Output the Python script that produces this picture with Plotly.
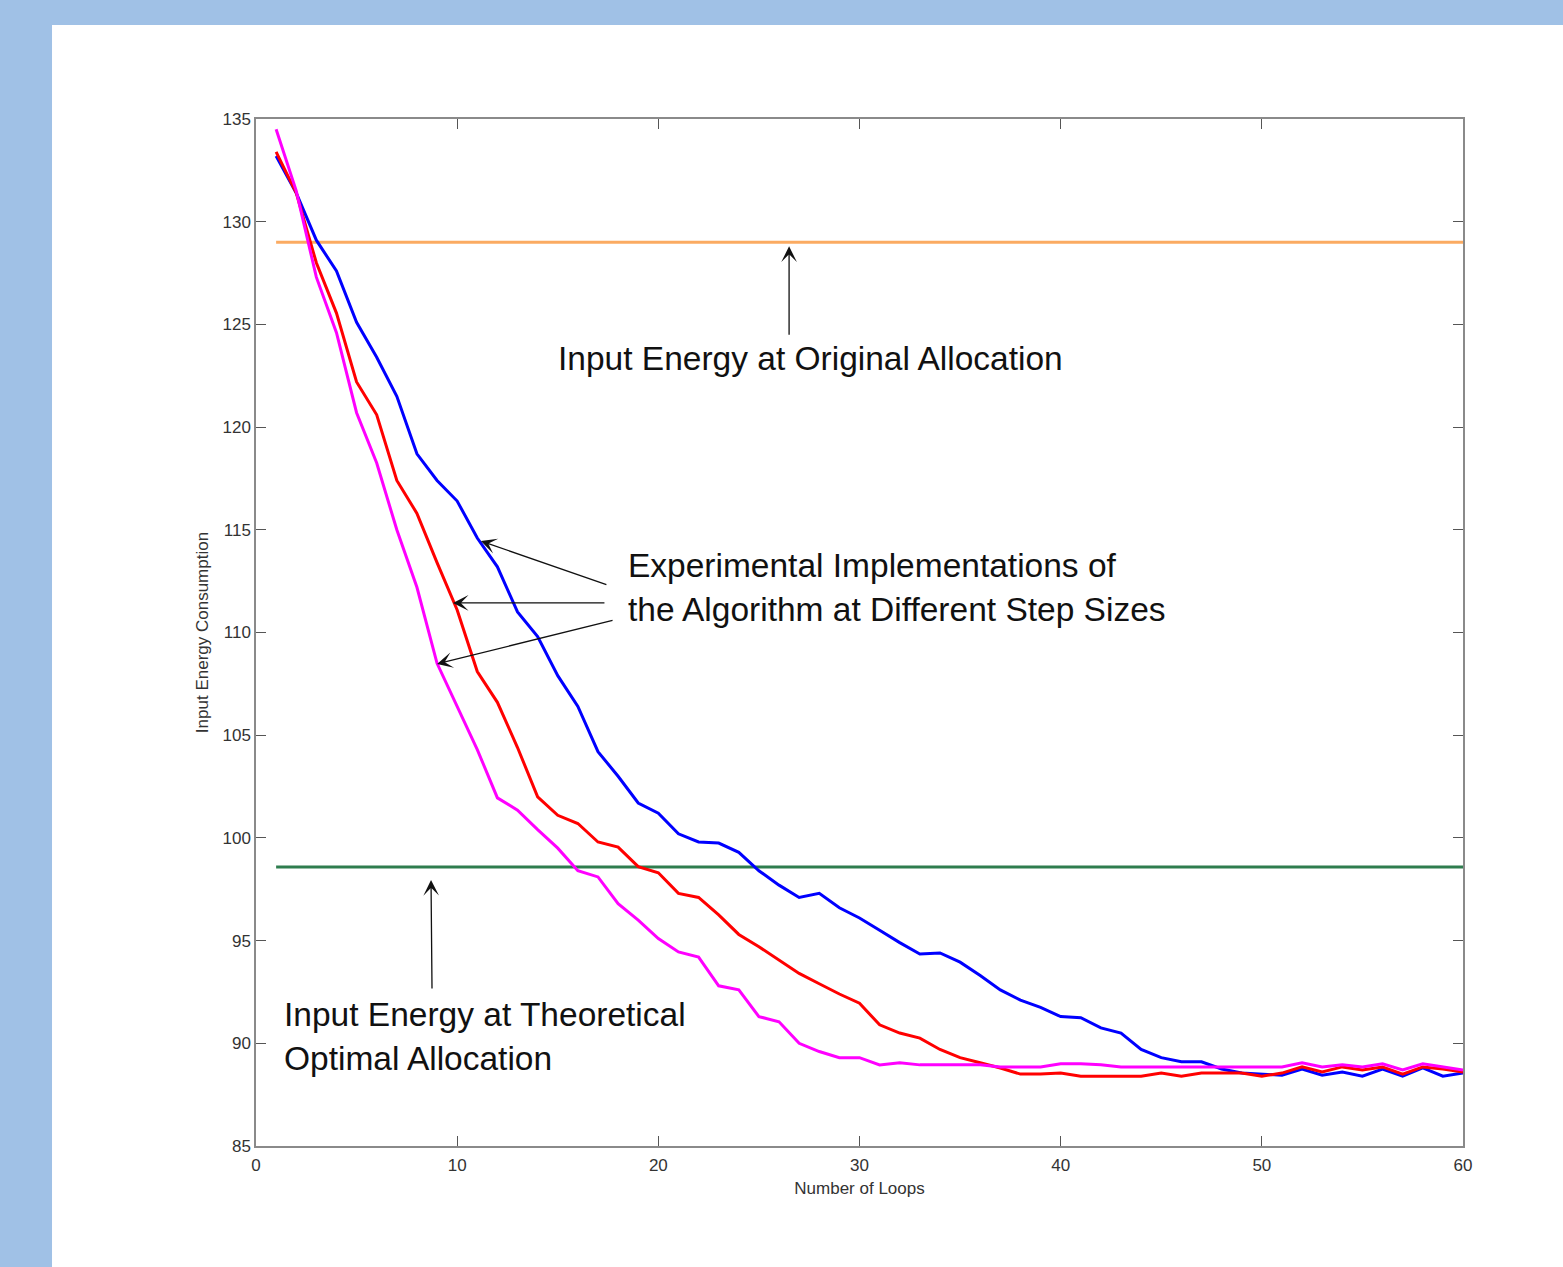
import plotly.graph_objects as go

loops = list(range(1, 61))

blue = [133.2, 131.4, 129.1, 127.6, 125.1, 123.4, 121.5, 118.7, 117.4, 116.4,
        114.6, 113.2, 111.0, 109.8, 107.9, 106.4, 104.2, 103.0, 101.7, 101.2,
        100.2, 99.8, 99.75, 99.3, 98.4, 97.7, 97.1, 97.3, 96.6, 96.1,
        95.5, 94.9, 94.35, 94.4, 93.95, 93.3, 92.6, 92.1, 91.75, 91.3,
        91.25, 90.75, 90.5, 89.7, 89.3, 89.1, 89.1, 88.75, 88.55, 88.5,
        88.45, 88.75, 88.45, 88.6, 88.4, 88.75, 88.4, 88.8, 88.4, 88.55]

red = [133.4, 131.4, 128.0, 125.55, 122.2, 120.6, 117.4, 115.8, 113.4, 111.1,
       108.1, 106.6, 104.4, 102.0, 101.1, 100.7, 99.8, 99.55, 98.6, 98.3,
       97.3, 97.1, 96.25, 95.3, 94.7, 94.05, 93.4, 92.9, 92.4, 91.95,
       90.9, 90.5, 90.25, 89.7, 89.3, 89.05, 88.8, 88.5, 88.5, 88.55,
       88.4, 88.4, 88.4, 88.4, 88.55, 88.4, 88.55, 88.55, 88.55, 88.4,
       88.55, 88.85, 88.6, 88.85, 88.7, 88.85, 88.5, 88.85, 88.75, 88.6]

magenta = [134.5, 131.5, 127.3, 124.6, 120.7, 118.25, 115.0, 112.2, 108.5, 106.4,
           104.3, 101.95, 101.35, 100.4, 99.5, 98.4, 98.1, 96.8, 96.0, 95.1,
           94.45, 94.2, 92.8, 92.6, 91.3, 91.05, 90.0, 89.6, 89.3, 89.3,
           88.95, 89.05, 88.95, 88.95, 88.95, 88.95, 88.85, 88.85, 88.85, 89.0,
           89.0, 88.95, 88.85, 88.85, 88.85, 88.85, 88.85, 88.85, 88.85, 88.85,
           88.85, 89.05, 88.85, 88.95, 88.85, 89.0, 88.7, 89.0, 88.85, 88.7]

original_level = 129.0
optimal_level = 98.58

x_ticks = [0, 10, 20, 30, 40, 50, 60]
y_ticks = [85, 90, 95, 100, 105, 110, 115, 120, 125, 130, 135]

fig = go.Figure()

fig.add_trace(go.Scatter(x=[loops[0], loops[-1]], y=[original_level, original_level],
                         mode="lines", line=dict(color="#fbab62", width=3), hoverinfo="skip"))
fig.add_trace(go.Scatter(x=[loops[0], loops[-1]], y=[optimal_level, optimal_level],
                         mode="lines", line=dict(color="#2e7d4e", width=3), hoverinfo="skip"))
fig.add_trace(go.Scatter(x=loops, y=blue, mode="lines", line=dict(color="#0000ff", width=3)))
fig.add_trace(go.Scatter(x=loops, y=red, mode="lines", line=dict(color="#ff0000", width=3)))
fig.add_trace(go.Scatter(x=loops, y=magenta, mode="lines", line=dict(color="#ff00ff", width=3)))

FONT = "Liberation Sans, Arial, sans-serif"
big_font = dict(family=FONT, size=33.5, color="#111111")
small_font = dict(family=FONT, size=17, color="#333333")

annotations = [
    dict(x=27.54, y=123.36, xref="x", yref="y", text="Input Energy at Original Allocation",
         showarrow=False, font=big_font, xanchor="center", yanchor="middle"),
    dict(x=18.39, y=112.2, xref="x", yref="y",
         text="Experimental Implementations of<br>the Algorithm at Different Step Sizes",
         showarrow=False, font=big_font, xanchor="left", yanchor="middle", align="left"),
    dict(x=1.29, y=90.35, xref="x", yref="y",
         text="Input Energy at Theoretical<br>Optimal Allocation",
         showarrow=False, font=big_font, xanchor="left", yanchor="middle", align="left"),
]

arrows = [
    (26.5, 128.8, 0, 90),
    (11.18, 114.45, 127, 44),
    (9.79, 111.44, 153, 0),
    (9.0, 108.47, 177, -44),
    (8.7, 97.95, 1, 110),
]
for (hx, hy, ax, ay) in arrows:
    annotations.append(dict(x=hx, y=hy, xref="x", yref="y", ax=ax, ay=ay, text="",
                            showarrow=True, arrowhead=3, arrowsize=2.0, arrowwidth=1.3,
                            arrowcolor="#111111"))

axis_common = dict(
    showline=True, linecolor="#8a8a8a", linewidth=1.5, mirror="ticks",
    ticks="inside", ticklen=10, tickwidth=1.2, tickcolor="#555555",
    showgrid=False, zeroline=False,
    tickfont=small_font,
)

fig.update_layout(
    width=1563, height=1267,
    margin=dict(l=256, r=100, t=119, b=121),
    paper_bgcolor="#a0c1e6",
    plot_bgcolor="white",
    showlegend=False,
    annotations=annotations,
    shapes=[dict(type="rect", xref="paper", yref="paper",
                 x0=-0.169, x1=1.1, y0=-0.13, y1=1.0915,
                 fillcolor="white", line=dict(width=0), layer="below")],
    xaxis=dict(range=[0, 60], tickvals=x_ticks, ticklabelstandoff=3,
               title=dict(text="Number of Loops", standoff=8, font=small_font),
               **axis_common),
    yaxis=dict(range=[85, 135], tickvals=y_ticks,
               title=dict(text="Input Energy Consumption", standoff=10, font=small_font),
               **axis_common),
)

fig.write_html("out.html", config={"displayModeBar": False},
               post_script="document.body.style.margin='0px';document.body.style.overflow='hidden';")
